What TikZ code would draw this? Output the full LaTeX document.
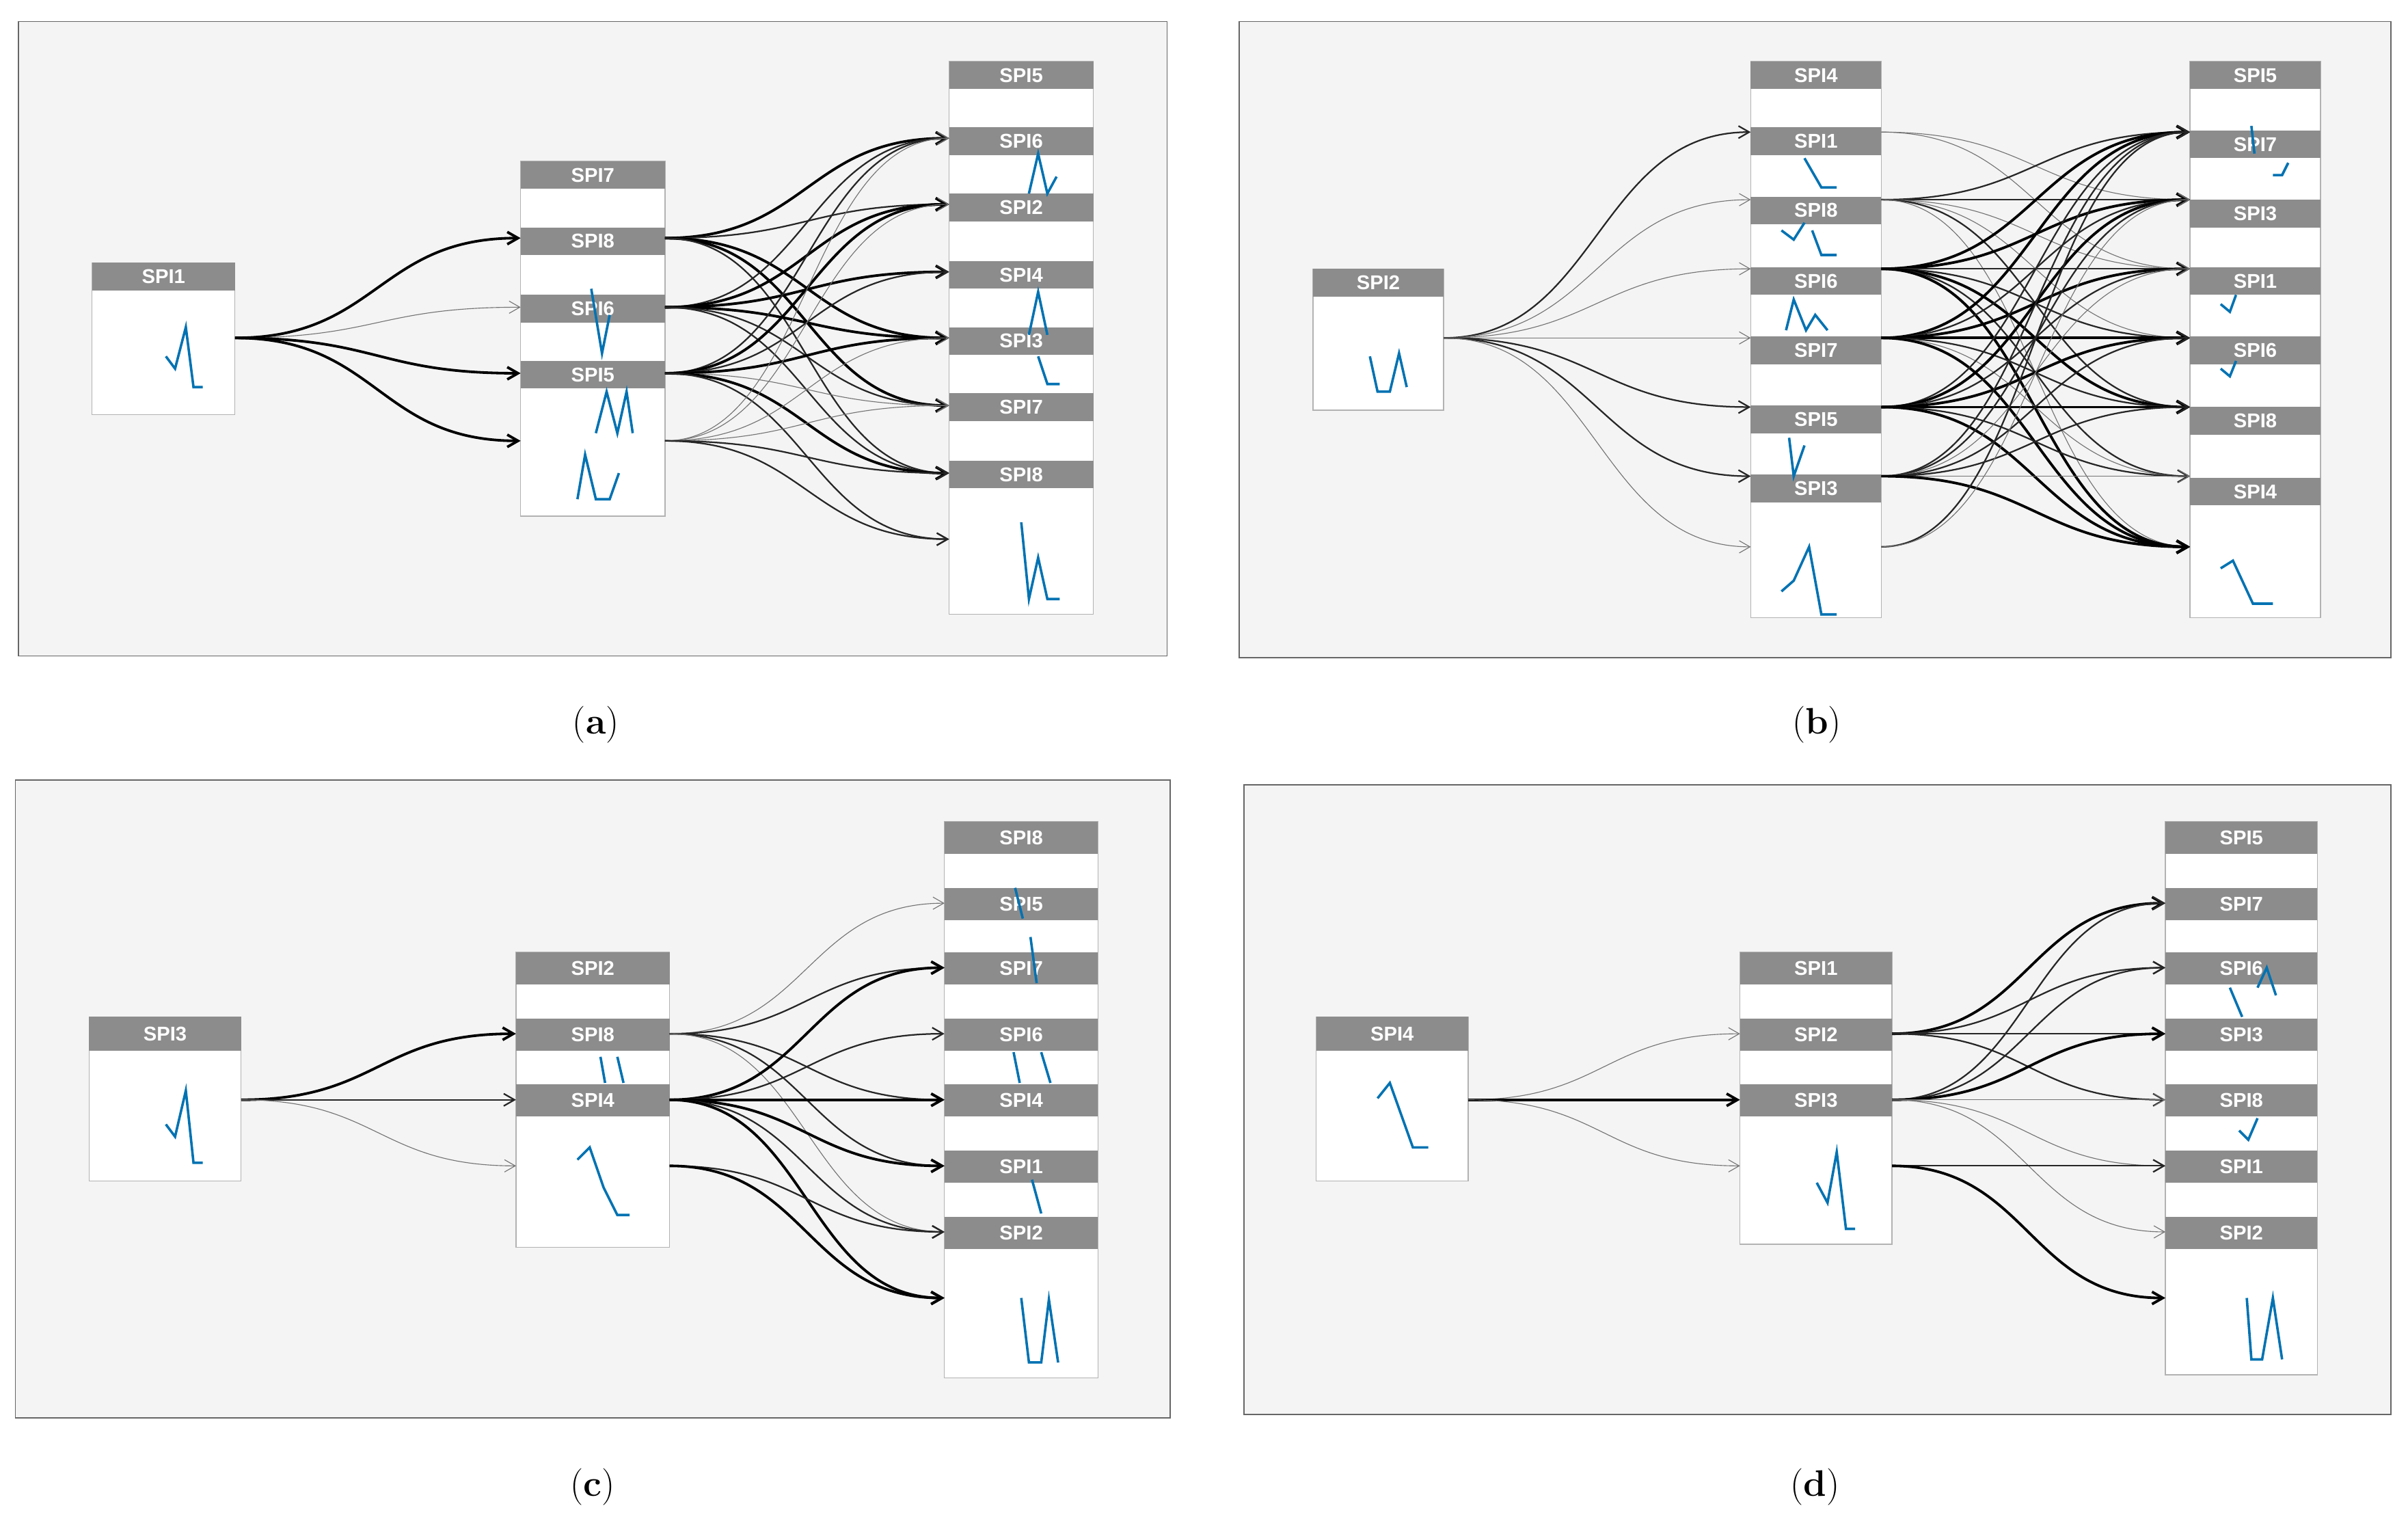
\documentclass[tikz,border=0pt]{standalone}
\usepackage{fontspec}
\newfontfamily\hdr{Liberation Sans}
\usetikzlibrary{arrows.meta}
\definecolor{hdrgray}{RGB}{140,140,140}
\definecolor{bg}{RGB}{244,244,244}
\definecolor{spark}{RGB}{0,114,178}
\tikzset{
 frame/.style={draw=gray!80!black,fill=bg,line width=0.8pt},
 box/.style={draw=gray!60,fill=white,line width=0.6pt},
 hd/.style={fill=hdrgray,draw=none},
 hdt/.style={text=white,font=\hdr\bfseries\fontsize{13}{13}\selectfont,inner sep=0pt},
 sp/.style={draw=spark,line width=1.6pt},
 th/.style={line width=1.7pt,black},
 md/.style={line width=1.0pt,black!85},
 tn/.style={line width=0.5pt,black!55},
 captxt/.style={font=\fontsize{24}{24}\selectfont}
}
\newcommand\myedge[5]{\draw[#5,-{Straight Barb[length=7pt,width=8pt]}] (#1,#2) .. controls ({(#1+#3)/2},#2) and ({(#1+#3)/2},#4) .. (#3,#4);}
\newcommand\myhead[5]{\fill[hd] (#1,#3) rectangle (#2,#3+#4); \node[hdt] at ({(#1+#2)/2},#3+#4/2) {#5};}
\begin{document}
\begin{tikzpicture}[x=1pt,y=-1pt]
\useasboundingbox[fill=white] (0,0) rectangle (1568,996);
% ===== (a)
\draw[frame] (12,14) rectangle (760,427);
\draw[box] (60,171) rectangle (153,270); \myhead{60}{153}{171}{18}{SPI1}
\draw[box] (339,105) rectangle (433,336);
\foreach \y/\t in {105/SPI7,148/SPI8,192/SPI6,235/SPI5}{\myhead{339}{433}{\y}{18}{\t}}
\draw[box] (618,40) rectangle (712,400);
\foreach \y/\t in {40/SPI5,83/SPI6,126/SPI2,170/SPI4,213/SPI3,256/SPI7,300/SPI8}{\myhead{618}{712}{\y}{18}{\t}}
\draw[sp] (108,232)--(114,240)--(121,213)--(126,252)--(132,252);
\draw[sp] (385,188)--(392,230)--(397,205);
\draw[sp] (388,282)--(395,255)--(402,282)--(408,255)--(412,282);
\draw[sp] (376,325)--(381,296)--(388,325)--(397,325)--(403,308);
\draw[sp] (670,126)--(676,100)--(682,126)--(688,115);
\draw[sp] (670,218)--(676,190)--(682,218);
\draw[sp] (676,232)--(682,250)--(690,250);
\draw[sp] (665,340)--(670,390)--(676,363)--(682,390)--(690,390);
\myedge{153}{220}{339}{155}{th}
\myedge{153}{220}{339}{200}{tn}
\myedge{153}{220}{339}{243}{th}
\myedge{153}{220}{339}{287}{th}
\foreach \t/\s in {90/th,133/md,220/th,264/th,308/md}{\myedge{433}{155}{618}{\t}{\s}}
\foreach \t/\s in {90/md,133/th,177/th,220/th,264/md,308/md}{\myedge{433}{200}{618}{\t}{\s}}
\foreach \t/\s in {90/md,133/th,177/md,220/th,264/tn,308/th,351/md}{\myedge{433}{243}{618}{\t}{\s}}
\foreach \t/\s in {90/tn,133/tn,220/tn,264/tn,308/md,351/md}{\myedge{433}{287}{618}{\t}{\s}}
\node[captxt] at (388,472) {(\textbf{a})};
% ===== (b)
\draw[frame] (807,14) rectangle (1557,428);
\draw[box] (855,175) rectangle (940,267); \myhead{855}{940}{175}{18}{SPI2}
\draw[box] (1140,40) rectangle (1225,402);
\foreach \y/\t in {40/SPI4,83/SPI1,128/SPI8,174/SPI6,219/SPI7,264/SPI5,309/SPI3}{\myhead{1140}{1225}{\y}{18}{\t}}
\draw[box] (1426,40) rectangle (1511,402);
\foreach \y/\t in {40/SPI5,85/SPI7,130/SPI3,174/SPI1,219/SPI6,265/SPI8,311/SPI4}{\myhead{1426}{1511}{\y}{18}{\t}}
\draw[sp] (892,232)--(897,255)--(905,255)--(911,230)--(916,252);
\draw[sp] (1175,103)--(1186,122)--(1196,122);
\draw[sp] (1160,150)--(1168,156)--(1175,145);
\draw[sp] (1180,150)--(1186,166)--(1196,166);
\draw[sp] (1163,215)--(1168,195)--(1176,215)--(1182,205)--(1190,215);
\draw[sp] (1165,285)--(1168,310)--(1175,290);
\draw[sp] (1160,385)--(1168,378)--(1178,356)--(1186,400)--(1196,400);
\draw[sp] (1466,82)--(1468,100);
\draw[sp] (1480,114)--(1486,114)--(1490,106);
\draw[sp] (1446,198)--(1452,203)--(1456,192);
\draw[sp] (1446,240)--(1452,245)--(1456,235);
\draw[sp] (1446,370)--(1454,365)--(1467,393)--(1480,393);
\foreach \t/\s in {86/md,130/tn,175/tn,220/tn,265/md,310/md,356/tn}{\myedge{940}{220}{1140}{\t}{\s}}
\foreach \t/\s in {130/tn,175/tn}{\myedge{1225}{86}{1426}{\t}{\s}}
\foreach \t/\s in {86/md,130/md,175/tn,220/tn,265/md,356/tn}{\myedge{1225}{130}{1426}{\t}{\s}}
\foreach \t/\s in {86/th,130/th,175/md,220/md,265/th,310/md,356/th}{\myedge{1225}{175}{1426}{\t}{\s}}
\foreach \t/\s in {86/th,130/md,175/th,220/th,265/md,310/tn,356/th}{\myedge{1225}{220}{1426}{\t}{\s}}
\foreach \t/\s in {86/md,130/th,175/md,220/th,265/th,310/md,356/th}{\myedge{1225}{265}{1426}{\t}{\s}}
\foreach \t/\s in {86/md,130/md,175/tn,220/md,265/md,310/tn,356/th}{\myedge{1225}{310}{1426}{\t}{\s}}
\foreach \t/\s in {86/md,130/tn}{\myedge{1225}{356}{1426}{\t}{\s}}
\node[captxt] at (1183,472) {(\textbf{b})};
% ===== (c)
\draw[frame] (10,508) rectangle (762,923);
\draw[box] (58,662) rectangle (157,769); \myhead{58}{157}{662}{22}{SPI3}
\draw[box] (336,620) rectangle (436,812);
\foreach \y/\t in {620/SPI2,663/SPI8,706/SPI4}{\myhead{336}{436}{\y}{21}{\t}}
\draw[box] (615,535) rectangle (715,897);
\foreach \y/\t in {535/SPI8,578/SPI5,620/SPI7,663/SPI6,706/SPI4,749/SPI1,792/SPI2}{\myhead{615}{715}{\y}{21}{\t}}
\draw[sp] (108,732)--(114,740)--(121,710)--(126,757)--(132,757);
\draw[sp] (391,688)--(394,705); \draw[sp] (402,688)--(406,705);
\draw[sp] (376,755)--(384,747)--(393,773)--(402,791)--(410,791);
\draw[sp] (661,578)--(666,598); \draw[sp] (671,610)--(675,640);
\draw[sp] (660,685)--(664,705); \draw[sp] (678,685)--(684,705);
\draw[sp] (672,768)--(678,790);
\draw[sp] (665,845)--(670,887)--(678,887)--(683,846)--(689,887);
\myedge{157}{716}{336}{673}{th}
\myedge{157}{716}{336}{716}{md}
\myedge{157}{716}{336}{759}{tn}
\foreach \t/\s in {588/tn,630/md,716/md,759/md,802/tn}{\myedge{436}{673}{615}{\t}{\s}}
\foreach \t/\s in {630/th,673/md,716/th,759/th,802/md,845/th}{\myedge{436}{716}{615}{\t}{\s}}
\foreach \t/\s in {802/md,845/th}{\myedge{436}{759}{615}{\t}{\s}}
\node[captxt] at (386,968) {(\textbf{c})};
% ===== (d)
\draw[frame] (810,511) rectangle (1557,921);
\draw[box] (857,662) rectangle (956,769); \myhead{857}{956}{662}{22}{SPI4}
\draw[box] (1133,620) rectangle (1232,810);
\foreach \y/\t in {620/SPI1,663/SPI2,706/SPI3}{\myhead{1133}{1232}{\y}{21}{\t}}
\draw[box] (1410,535) rectangle (1509,895);
\foreach \y/\t in {535/SPI5,578/SPI7,620/SPI6,663/SPI3,706/SPI8,749/SPI1,792/SPI2}{\myhead{1410}{1509}{\y}{21}{\t}}
\draw[sp] (897,715)--(905,705)--(920,747)--(930,747);
\draw[sp] (1183,770)--(1190,783)--(1196,750)--(1202,800)--(1208,800);
\draw[sp] (1452,643)--(1460,662); \draw[sp] (1470,643)--(1476,630)--(1482,648);
\draw[sp] (1458,736)--(1464,742)--(1470,728);
\draw[sp] (1463,845)--(1466,885)--(1473,885)--(1480,845)--(1486,885);
\myedge{956}{716}{1133}{673}{tn}
\myedge{956}{716}{1133}{716}{th}
\myedge{956}{716}{1133}{759}{tn}
\foreach \t/\s in {588/th,630/md,673/md,716/md}{\myedge{1232}{673}{1410}{\t}{\s}}
\foreach \t/\s in {588/md,630/md,673/th,716/tn,759/tn,802/tn}{\myedge{1232}{716}{1410}{\t}{\s}}
\foreach \t/\s in {759/md,845/th}{\myedge{1232}{759}{1410}{\t}{\s}}
\node[captxt] at (1182,968) {(\textbf{d})};
\end{tikzpicture}
\end{document}
